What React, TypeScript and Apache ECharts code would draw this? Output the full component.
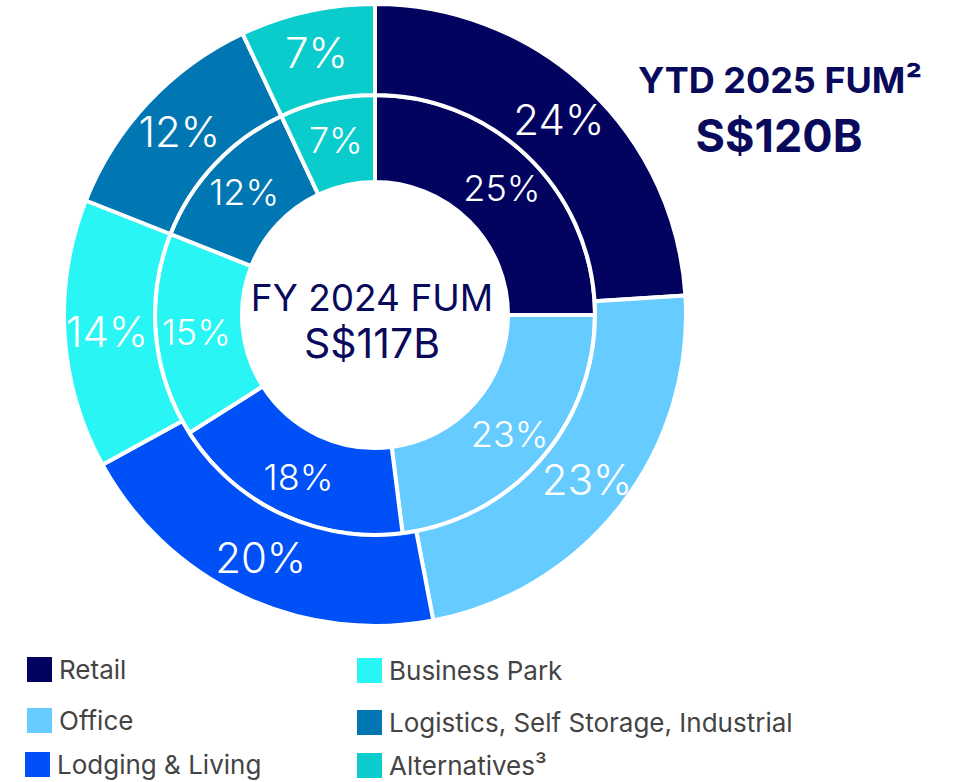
import React, { useEffect, useRef } from "react";
import * as echarts from "echarts";

const categories = ["Retail", "Office", "Lodging & Living", "Business Park", "Logistics, Self Storage, Industrial", "Alternatives³"];
const colors = ["#02025F", "#66CCFF", "#0050F7", "#2AF5F5", "#0077B2", "#0ACCCC"];
const fy2024Values = [25, 23, 18, 15, 12, 7];
const ytd2025Values = [24, 23, 20, 14, 12, 7];

const legendPositions = [
  { left: 25, top: 655 },
  { left: 25, top: 706 },
  { left: 23, top: 750 },
  { left: 355, top: 656 },
  { left: 355, top: 708 },
  { left: 355, top: 751 },
];

const FONT = "Inter, 'Noto Sans', sans-serif";

export default function App() {
  const ref = useRef<HTMLDivElement>(null);
  useEffect(() => {
    if (!ref.current) return;
    const chart = echarts.init(ref.current, undefined, { renderer: "svg" });
    const mk = (vals: number[]) =>
      categories.map((c, i) => ({ name: c, value: vals[i], itemStyle: { color: colors[i] } }));
    const labelFmt = (p: any) => `${p.value}%`;
    chart.setOption({
      animation: false,
      backgroundColor: "#ffffff",
      legend: categories.map((c, i) => ({
        data: [c],
        left: legendPositions[i].left,
        top: legendPositions[i].top,
        padding: 0,
        icon: "rect",
        itemWidth: 27,
        itemHeight: 27,
        selectedMode: false,
        textStyle: { fontFamily: FONT, fontSize: 26, lineHeight: 27, color: "#444444", padding: [0, 0, 0, 1] },
      })),
      graphic: [
        { type: "text", x: 780, y: 80, style: { text: "YTD 2025 FUM²", fontFamily: FONT, fontSize: 36, fontWeight: "bold", fill: "#0A0A5C", textAlign: "center", textVerticalAlign: "middle" } },
        { type: "text", x: 779, y: 135, style: { text: "S$120B", fontFamily: FONT, fontSize: 45, fontWeight: "bold", fill: "#0A0A5C", textAlign: "center", textVerticalAlign: "middle" } },
        { type: "text", x: 372, y: 297, style: { text: "FY 2024 FUM", fontFamily: FONT, fontSize: 37, fontWeight: "normal", fill: "#0A0A5C", textAlign: "center", textVerticalAlign: "middle" } },
        { type: "text", x: 372, y: 343, style: { text: "S$117B", fontFamily: FONT, fontSize: 41, fontWeight: "normal", fill: "#0A0A5C", textAlign: "center", textVerticalAlign: "middle" } },
      ],
      series: [
        {
          name: "FY 2024",
          type: "pie",
          center: [375, 315],
          radius: [133, 220],
          startAngle: 90,
          clockwise: true,
          silent: true,
          itemStyle: { borderColor: "#ffffff", borderWidth: 4 },
          label: { show: true, position: "inside", formatter: labelFmt, color: "#ffffff", fontFamily: FONT, fontSize: 36, fontWeight: 300 },
          labelLine: { show: false },
          data: mk(fy2024Values),
        },
        {
          name: "YTD 2025",
          type: "pie",
          center: [375, 315],
          radius: [220, 311],
          startAngle: 90,
          clockwise: true,
          silent: true,
          itemStyle: { borderColor: "#ffffff", borderWidth: 4 },
          label: { show: true, position: "inside", formatter: labelFmt, color: "#ffffff", fontFamily: FONT, fontSize: 42, fontWeight: 300 },
          labelLine: { show: false },
          data: mk(ytd2025Values),
        },
      ],
    });
    return () => chart.dispose();
  }, []);
  return <div ref={ref} style={{ position: "fixed", left: 0, top: 0, width: 956, height: 782 }} />;
}
